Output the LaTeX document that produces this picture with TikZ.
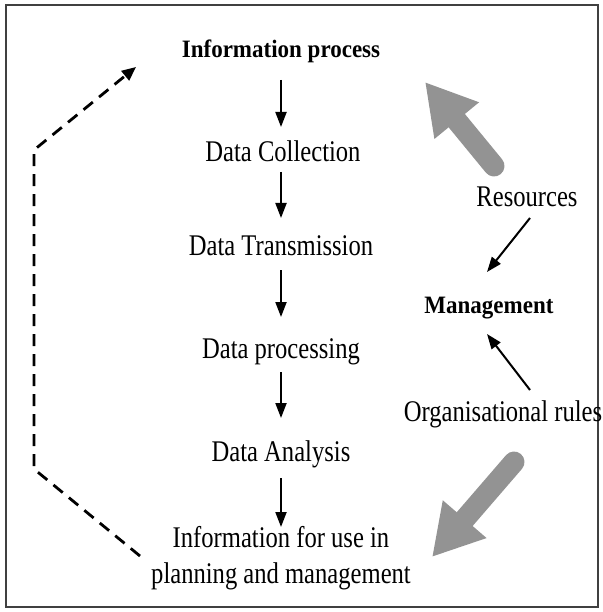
\documentclass[tikz,border=0pt]{standalone}
\usepackage{fontspec}
\setmainfont{Liberation Serif}
\newfontfamily\rf[FakeStretch=0.82]{Liberation Serif}
\newfontfamily\bfam[FakeStretch=0.92]{Liberation Serif}
\usetikzlibrary{arrows.meta,calc}
\begin{document}
\begin{tikzpicture}[x=1pt,y=-1pt,
  reg/.style={anchor=base,inner sep=0pt,font=\rf\fontsize{30}{36}\selectfont,align=center},
  bld/.style={anchor=base,inner sep=0pt,font=\bfam\fontsize{25}{30}\selectfont\bfseries},
  arr/.style={line width=2pt,-{Triangle[length=15pt,width=11pt]}},
  bigarr/.style={line width=21pt,draw=gray!85,line cap=round,-{Triangle[length=50pt,width=54pt,fill=gray!85]}},
  dasharr/.style={line width=2.8pt,dash pattern=on 12pt off 8pt,-{Triangle[length=14pt,width=12pt]}}]
\useasboundingbox (0,0) rectangle (602,612);
\draw[line width=2.5pt,draw=black!75] (6,5) rectangle (598,607);
% centre column
\node[bld] (ip) at (281,58) {Information process};
\node[reg] (dc) at (283,162) {Data Collection};
\node[reg] (dt) at (281,255) {Data Transmission};
\node[reg] (dp) at (281,358) {Data processing};
\node[reg] (da) at (281,461) {Data Analysis};
\node[reg] (iu) at (281,583) {Information for use in\\planning and management};
\draw[arr] ($(ip.base)+(0,22)$) -- ($(dc.base)+(-2,-35)$);
\draw[arr] ($(dc.base)+(-2,10)$) -- ($(dt.base)+(0,-37)$);
\draw[arr] ($(dt.base)+(0,15)$) -- ($(dp.base)+(0,-41)$);
\draw[arr] ($(dp.base)+(0,14)$) -- ($(da.base)+(0,-43)$);
\draw[arr] ($(da.base)+(0,17)$) -- ($(iu.base)+(0,-56)$);
% right side
\node[reg] (res) at (527,207) {Resources};
\node[bld] (mg) at (489,313) {Management};
\node[reg] (org) at (503,421) {Organisational rules};
\coordinate (r1) at (530,218);
\coordinate (r2) at (487,272);
\coordinate (o1) at (530,390);
\coordinate (o2) at (487,334);
\draw[arr] (r1) -- (r2);
\draw[arr] (o1) -- (o2);
% big grey arrows
\coordinate (g1) at (494,166);
\coordinate (g2) at (425,82);
\coordinate (g3) at (514,462);
\coordinate (g4) at (432,557);
\draw[bigarr] (g1) -- (g2);
\draw[bigarr] (g3) -- (g4);
% dashed feedback
\coordinate (d1) at (140,556);
\coordinate (d2) at (34,469);
\coordinate (d3) at (34,150);
\coordinate (d4) at (136,67);
\draw[dasharr] (d1) -- (d2) -- (d3) -- (d4);
\end{tikzpicture}
\end{document}
